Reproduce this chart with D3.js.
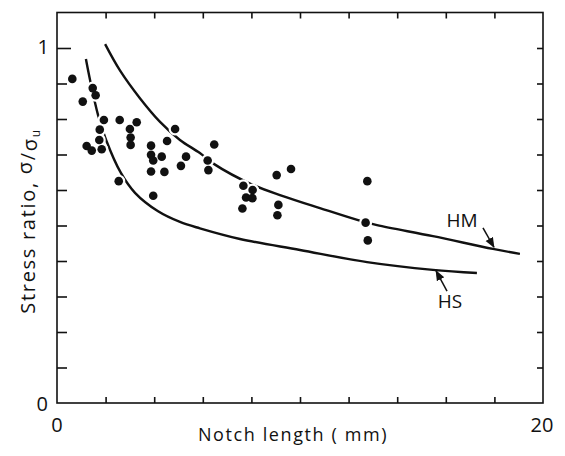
<!DOCTYPE html>
<meta charset="utf-8">
<style>
  body { margin: 0; background: #fff; }
  text { font-family: "Open Sans", sans-serif; fill: #111; }
  .frame { fill: none; stroke: #111; stroke-width: 1.6; }
  .tick { stroke: #111; stroke-width: 1.6; }
  .curve { fill: none; stroke: #111; stroke-width: 2.4; }
</style>
<svg width="565" height="456"></svg>
<script src="https://d3js.org/d3.v7.min.js"></script>
<script>
// measured points: notch length (mm) vs stress ratio
var notchLength = [0.63, 1.47, 1.59, 1.06, 1.93, 2.58, 3.28, 3.00, 1.76, 4.86,
                   3.03, 1.74, 1.22, 4.53, 3.03, 1.43, 1.84, 3.87, 6.47, 3.87,
                   4.31, 3.96, 5.31, 6.20, 5.10, 6.23, 3.87, 4.42, 2.54, 3.96,
                   9.04, 9.63, 7.67, 8.05, 7.78, 8.04, 7.63, 9.11, 9.07,
                   12.77, 12.70, 12.79];
var stressRatio = [0.913, 0.887, 0.867, 0.849, 0.797, 0.797, 0.791, 0.772, 0.770, 0.772,
                   0.748, 0.741, 0.724, 0.738, 0.727, 0.711, 0.715, 0.725, 0.728, 0.699,
                   0.694, 0.683, 0.694, 0.683, 0.668, 0.656, 0.652, 0.651, 0.625, 0.584,
                   0.642, 0.659, 0.612, 0.600, 0.579, 0.577, 0.548, 0.558, 0.529,
                   0.625, 0.508, 0.458];

// HM curve
var hmLength = [1.98, 2.59, 3.42, 4.24, 5.06, 5.88, 6.42, 8.07, 9.30, 10.82, 12.39, 13.17, 15.47, 17.94, 19.05];
var hmRatio  = [1.011, 0.937, 0.858, 0.792, 0.741, 0.704, 0.675, 0.614, 0.583, 0.549, 0.515, 0.501, 0.470, 0.434, 0.420];

// HS curve
var hsLength = [1.19, 1.36, 1.69, 2.02, 2.63, 3.21, 4.16, 5.06, 5.88, 7.53, 10.0, 12.76, 15.47, 17.28];
var hsRatio  = [0.969, 0.910, 0.811, 0.741, 0.648, 0.592, 0.540, 0.510, 0.492, 0.462, 0.431, 0.397, 0.375, 0.366];

var xTicks = [2, 4, 6, 8, 10, 12, 14, 16, 18];
var yTicks = [0.1, 0.2, 0.3, 0.4, 0.5, 0.6, 0.7, 0.8, 0.9];

var svg = d3.select("svg");

svg.append("rect")
    .attr("width", "100%")
    .attr("height", "100%")
    .attr("fill", "#fff");

var x = d3.scaleLinear().domain([0, 20]).range([57, 543]);
var y = d3.scaleLinear().domain([0, 1.1]).range([403, 12.5]);

function noDomain(g) { g.select(".domain").remove(); }

// inward ticks on all four sides
svg.append("g")
    .attr("transform", "translate(0," + y(0) + ")")
    .call(d3.axisBottom(x).tickValues(xTicks).tickSize(-6).tickFormat(""))
    .call(noDomain)
    .selectAll("line").attr("class", "tick");

svg.append("g")
    .attr("transform", "translate(0," + y(1.1) + ")")
    .call(d3.axisTop(x).tickValues(xTicks).tickSize(-6).tickFormat(""))
    .call(noDomain)
    .selectAll("line").attr("class", "tick");

svg.append("g")
    .attr("transform", "translate(" + x(0) + ",0)")
    .call(d3.axisLeft(y).tickValues(yTicks).tickSize(-10).tickFormat(""))
    .call(noDomain)
    .selectAll("line").attr("class", "tick");

// the tick at 1 is a little longer
svg.append("g")
    .attr("transform", "translate(" + x(0) + ",0)")
    .call(d3.axisLeft(y).tickValues([1]).tickSize(-14).tickFormat(""))
    .call(noDomain)
    .selectAll("line").attr("class", "tick");

svg.append("g")
    .attr("transform", "translate(" + x(20) + ",0)")
    .call(d3.axisRight(y).tickValues(yTicks.concat([1])).tickSize(-6).tickFormat(""))
    .call(noDomain)
    .selectAll("line").attr("class", "tick");

svg.selectAll(".tick text").remove();

svg.append("rect")
    .attr("class", "frame")
    .attr("x", x(0))
    .attr("y", y(1.1))
    .attr("width", x(20) - x(0))
    .attr("height", y(0) - y(1.1));

// curves
var line = d3.line()
    .x(function(d) { return x(d[0]); })
    .y(function(d) { return y(d[1]); })
    .curve(d3.curveCatmullRom.alpha(0.5));

svg.append("path")
    .attr("class", "curve")
    .attr("d", line(d3.zip(hmLength, hmRatio)));

svg.append("path")
    .attr("class", "curve")
    .attr("d", line(d3.zip(hsLength, hsRatio)));

// white halo under the dots, so curves break round them
var pts = d3.zip(notchLength, stressRatio);

svg.append("g").selectAll("circle")
    .data(pts)
    .enter()
    .append("circle")
    .attr("cx", function(d) { return x(d[0]); })
    .attr("cy", function(d) { return y(d[1]); })
    .attr("r", 6.5)
    .attr("fill", "#fff");

svg.append("g").selectAll("circle")
    .data(pts)
    .enter()
    .append("circle")
    .attr("cx", function(d) { return x(d[0]); })
    .attr("cy", function(d) { return y(d[1]); })
    .attr("r", 4.3)
    .attr("fill", "#111");

// arrows and curve labels
svg.append("defs").append("marker")
    .attr("id", "head")
    .attr("viewBox", "0 0 10 10")
    .attr("refX", 9)
    .attr("refY", 5)
    .attr("markerWidth", 7)
    .attr("markerHeight", 7)
    .attr("orient", "auto")
    .append("path")
    .attr("d", "M0,1 L10,5 L0,9 z")
    .attr("fill", "#111");

svg.append("line")
    .attr("x1", x(17.53)).attr("y1", y(0.493))
    .attr("x2", x(17.98)).attr("y2", y(0.439))
    .attr("stroke", "#111").attr("stroke-width", 1.5)
    .attr("marker-end", "url(#head)");

svg.append("line")
    .attr("x1", x(16.05)).attr("y1", y(0.315))
    .attr("x2", x(15.6)).attr("y2", y(0.372))
    .attr("stroke", "#111").attr("stroke-width", 1.5)
    .attr("marker-end", "url(#head)");

svg.append("text")
    .attr("x", x(16.67)).attr("y", y(0.515) + 7)
    .attr("text-anchor", "middle")
    .style("font-size", "19px")
    .text("HM");

svg.append("text")
    .attr("x", x(16.17)).attr("y", y(0.287) + 7)
    .attr("text-anchor", "middle")
    .style("font-size", "19px")
    .text("HS");

// axis numbers
svg.append("text").attr("x", x(0)).attr("y", 432).attr("text-anchor", "middle")
    .style("font-size", "20px").text("0");
svg.append("text").attr("x", x(20) - 1).attr("y", 432).attr("text-anchor", "middle")
    .style("font-size", "20px").text("20");
svg.append("text").attr("x", 48).attr("y", y(0) + 8).attr("text-anchor", "end")
    .style("font-size", "20px").text("0");
svg.append("text").attr("x", 49).attr("y", y(1) + 6).attr("text-anchor", "end")
    .style("font-size", "20px").text("1");

// axis titles
svg.append("text")
    .attr("x", 293).attr("y", 441)
    .attr("text-anchor", "middle")
    .style("font-size", "18px")
    .style("letter-spacing", "1.6px")
    .text("Notch length ( mm)");

var ylab = svg.append("text")
    .attr("transform", "translate(35,221) rotate(-90)")
    .attr("text-anchor", "middle")
    .style("font-size", "20px")
    .style("letter-spacing", "1.7px");
ylab.append("tspan").text("Stress ratio, ");
ylab.append("tspan").attr("dy", -3).text("σ");
ylab.append("tspan").attr("dy", 3).text("/");
ylab.append("tspan").attr("dy", 2).text("σ");
ylab.append("tspan").attr("dy", 3).style("font-size", "12px").text("u");
</script>
